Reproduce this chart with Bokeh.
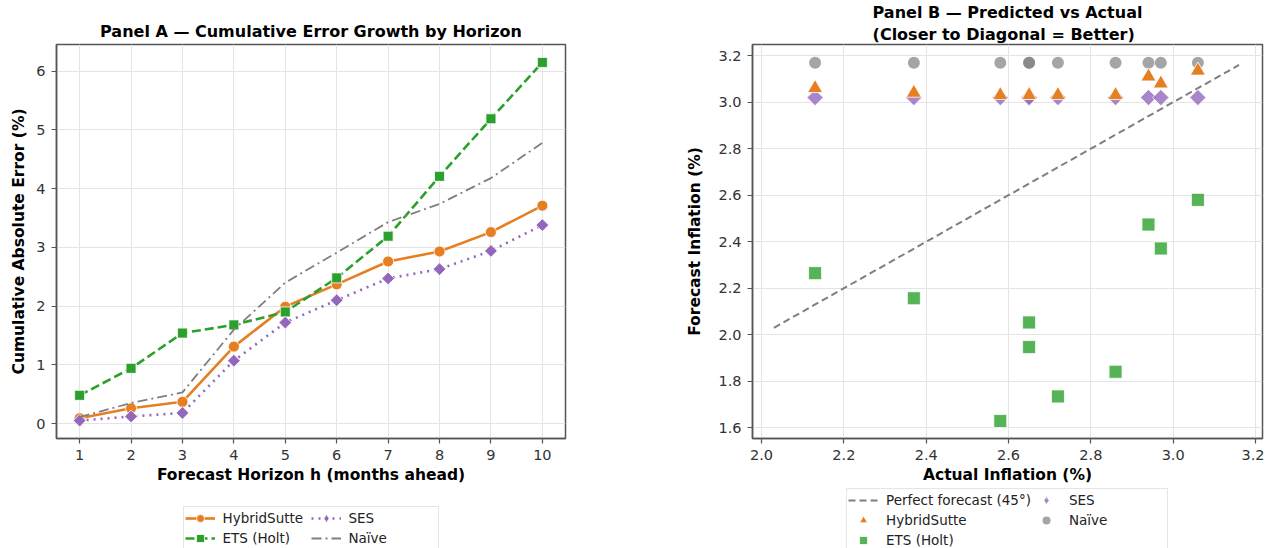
from bokeh.plotting import figure
from bokeh.models import Range1d, FixedTicker, Legend, LegendItem, PrintfTickFormatter
from bokeh.layouts import row, column
from bokeh.embed import file_html
from bokeh.resources import INLINE

# ---------------- data ----------------
horizons = [1, 2, 3, 4, 5, 6, 7, 8, 9, 10]
hybrid_cum = [0.09, 0.26, 0.37, 1.31, 1.99, 2.37, 2.76, 2.93, 3.26, 3.71]
ets_cum = [0.48, 0.94, 1.54, 1.68, 1.90, 2.48, 3.19, 4.21, 5.19, 6.15]
ses_cum = [0.05, 0.12, 0.18, 1.07, 1.72, 2.10, 2.47, 2.63, 2.94, 3.38]
naive_cum = [0.11, 0.35, 0.53, 1.60, 2.40, 2.91, 3.43, 3.74, 4.18, 4.78]

actual = [2.13, 2.37, 2.58, 2.65, 2.65, 2.72, 2.86, 2.94, 2.97, 3.06]
hybrid_fc = [3.06, 3.04, 3.03, 3.03, 3.03, 3.03, 3.03, 3.11, 3.08, 3.135]
ets_fc = [2.265, 2.157, 1.629, 2.053, 1.947, 1.735, 1.841, 2.474, 2.371, 2.58]
ses_fc = [3.02, 3.02, 3.02, 3.02, 3.02, 3.02, 3.02, 3.02, 3.02, 3.02]
naive_fc = [3.17, 3.17, 3.17, 3.17, 3.17, 3.17, 3.17, 3.17, 3.17, 3.17]
diag = [2.03, 3.16]

xticks_a = [1, 2, 3, 4, 5, 6, 7, 8, 9, 10]
yticks_a = [0, 1, 2, 3, 4, 5, 6]
xticks_b = [2.0, 2.2, 2.4, 2.6, 2.8, 3.0, 3.2]
yticks_b = [1.6, 1.8, 2.0, 2.2, 2.4, 2.6, 2.8, 3.0, 3.2]

ORANGE = "#E67E22"
GREEN = "#2CA02C"
PURPLE = "#9467BD"
GRAY = "#7F7F7F"
FONT = "DejaVu Sans"


def style(p, xlabel, ylabel, ylab_standoff):
    p.outline_line_color = "#555555"
    p.outline_line_width = 1.5
    p.outline_line_alpha = 1.0
    for ax in (p.xaxis[0], p.yaxis[0]):
        ax.axis_line_color = "#555555"
        ax.axis_line_width = 1.5
        ax.major_tick_line_color = "#555555"
        ax.major_tick_line_width = 1.2
        ax.major_tick_out = 5
        ax.major_tick_in = 0
        ax.minor_tick_line_color = None
        ax.major_label_text_font = FONT
        ax.major_label_text_font_size = "14.5px"
        ax.major_label_text_color = "#333333"
        ax.major_label_standoff = 6
        ax.axis_label_text_font = FONT
        ax.axis_label_text_font_size = "15.5px"
        ax.axis_label_text_font_style = "bold"
        ax.axis_label_text_color = "#000000"
    p.xaxis[0].axis_label = xlabel
    p.yaxis[0].axis_label = ylabel
    p.xaxis[0].axis_label_standoff = 3
    p.yaxis[0].axis_label_standoff = ylab_standoff
    p.grid.grid_line_color = "#e4e4e4"
    p.grid.grid_line_width = 1
    p.title.text_font = FONT
    p.title.text_font_size = "16px"
    p.title.text_font_style = "bold"
    p.title.align = "center"
    p.title.text_color = "#000000"


def legend_style(leg):
    leg.label_text_font = FONT
    leg.label_text_font_size = "13.5px"
    leg.label_text_color = "#222222"
    leg.glyph_width = 30
    leg.glyph_height = 20
    leg.label_height = 20
    leg.spacing = 0
    leg.padding = 1
    leg.label_standoff = 8
    leg.border_line_color = "#cccccc"
    leg.border_line_width = 1
    leg.background_fill_color = "white"
    leg.background_fill_alpha = 0.9
    leg.ncols = 2
    leg.orientation = "vertical"
    leg.location = "top_center"


def legend_fig(left, frame_w, right, h):
    # a strip below the panel that only holds the legend; its ranges keep
    # the proxy series far outside the visible area
    f = figure(frame_width=frame_w, frame_height=h,
               x_range=Range1d(-1000, -999), y_range=Range1d(-1000, -999),
               output_backend="svg", toolbar_location=None,
               x_axis_location=None, y_axis_location=None,
               min_border_left=left, min_border_right=right, min_border_top=0, min_border_bottom=0)
    f.grid.visible = False
    f.outline_line_color = None
    return f


# ---------------- Panel A ----------------
A_LEFT, A_RIGHT = 56, 75
pA = figure(frame_width=509, frame_height=394,
            x_range=Range1d(0.55, 10.45), y_range=Range1d(-0.255, 6.455),
            output_backend="svg", toolbar_location=None,
            min_border_left=A_LEFT, min_border_right=A_RIGHT, min_border_top=44, min_border_bottom=56,
            title="Panel A \u2014 Cumulative Error Growth by Horizon")
style(pA, "Forecast Horizon h (months ahead)", "Cumulative Absolute Error (%)", 5)
pA.title.standoff = 7
pA.xaxis[0].ticker = FixedTicker(ticks=xticks_a)
pA.yaxis[0].ticker = FixedTicker(ticks=yticks_a)


def add_a_series(p, xs, hy, et, se, na, proxy=False):
    r = {}
    r["l_hyb"] = p.line(xs, hy, line_color=ORANGE, line_width=2.6)
    r["s_hyb"] = p.scatter(xs, hy, marker="circle", size=11, fill_color=ORANGE,
                           line_color="white", line_width=0.8)
    r["l_ets"] = p.line(xs, et, line_color=GREEN, line_width=2.6, line_dash="9 4")
    r["s_ets"] = p.scatter(xs, et, marker="square", size=10, fill_color=GREEN,
                           line_color="white", line_width=0.8)
    r["l_ses"] = p.line(xs, se, line_color=PURPLE, line_width=2.6, line_dash="2 5")
    if proxy:
        r["s_ses"] = p.scatter(xs, se, marker="diamond", size=9, fill_color=PURPLE,
                               line_color="white", line_width=0.8)
    else:
        r["s_ses"] = p.scatter(xs, se, marker="square", angle=0.785398, size=9, fill_color=PURPLE,
                               line_color="white", line_width=0.8)
    r["l_nai"] = p.line(xs, na, line_color=GRAY, line_width=1.8, line_dash="10 4 2 4")
    return r


add_a_series(pA, horizons, hybrid_cum, ets_cum, ses_cum, naive_cum)

lA = legend_fig(A_LEFT, 509, A_RIGHT, 80)
ra = add_a_series(lA, horizons, hybrid_cum, ets_cum, ses_cum, naive_cum, proxy=True)
legA = Legend(items=[
    LegendItem(label="HybridSutte", renderers=[ra["l_hyb"], ra["s_hyb"]]),
    LegendItem(label="ETS (Holt)", renderers=[ra["l_ets"], ra["s_ets"]]),
    LegendItem(label="SES", renderers=[ra["l_ses"], ra["s_ses"]]),
    LegendItem(label="Na\u00efve", renderers=[ra["l_nai"]]),
])
legend_style(legA)
legA.label_width = 88
legA.margin = 12
lA.add_layout(legA, "center")

# ---------------- Panel B ----------------
B_LEFT, B_RIGHT = 112, 2
pB = figure(frame_width=510, frame_height=394,
            x_range=Range1d(1.978, 3.217), y_range=Range1d(1.554, 3.248),
            output_backend="svg", toolbar_location=None,
            min_border_left=B_LEFT, min_border_right=B_RIGHT, min_border_top=38, min_border_bottom=50,
            title="Panel B \u2014 Predicted vs Actual\n(Closer to Diagonal = Better)")
style(pB, "Actual Inflation (%)", "Forecast Inflation (%)", 11)
pB.title.standoff = 1
pB.title.text_line_height = 1.15
pB.xaxis[0].ticker = FixedTicker(ticks=xticks_b)
pB.yaxis[0].ticker = FixedTicker(ticks=yticks_b)
pB.xaxis[0].formatter = PrintfTickFormatter(format="%.1f")
pB.yaxis[0].formatter = PrintfTickFormatter(format="%.1f")


def add_b_series(p, xs, dg, et, se, na, hy, proxy=False):
    r = {}
    r["diag"] = p.line(dg, dg, line_color=GRAY, line_width=2, line_dash="7 4")
    r["ets"] = p.scatter(xs, et, marker="square", size=13, fill_color=GREEN, fill_alpha=0.8,
                         line_color="white", line_width=0.8)
    if proxy:
        r["ses"] = p.scatter(xs, se, marker="diamond", size=12, fill_color=PURPLE,
                             fill_alpha=0.8, line_color="white", line_width=0.8)
    else:
        r["ses"] = p.scatter(xs, se, marker="square", angle=0.785398, size=11.5, fill_color=PURPLE,
                             fill_alpha=0.8, line_color="white", line_width=0.8)
    r["nai"] = p.scatter(xs, na, marker="circle", size=12, fill_color=GRAY, fill_alpha=0.7,
                         line_color=None)
    r["hyb"] = p.scatter(xs, hy, marker="triangle", size=15, fill_color=ORANGE,
                         line_color="white", line_width=0.8)
    return r


add_b_series(pB, actual, diag, ets_fc, ses_fc, naive_fc, hybrid_fc)

lB = legend_fig(B_LEFT, 510, B_RIGHT, 86)
rb = add_b_series(lB, actual, diag, ets_fc, ses_fc, naive_fc, hybrid_fc, proxy=True)
legB = Legend(items=[
    LegendItem(label="Perfect forecast (45\u00b0)", renderers=[rb["diag"]]),
    LegendItem(label="HybridSutte", renderers=[rb["hyb"]]),
    LegendItem(label="ETS (Holt)", renderers=[rb["ets"]]),
    LegendItem(label="SES", renderers=[rb["ses"]]),
    LegendItem(label="Na\u00efve", renderers=[rb["nai"]]),
])
legend_style(legB)
legB.label_width = 97
legB.margin = 0
lB.add_layout(legB, "center")

layout = row(column(pA, lA), column(pB, lB))
open("out.html", "w").write(file_html(layout, INLINE))
